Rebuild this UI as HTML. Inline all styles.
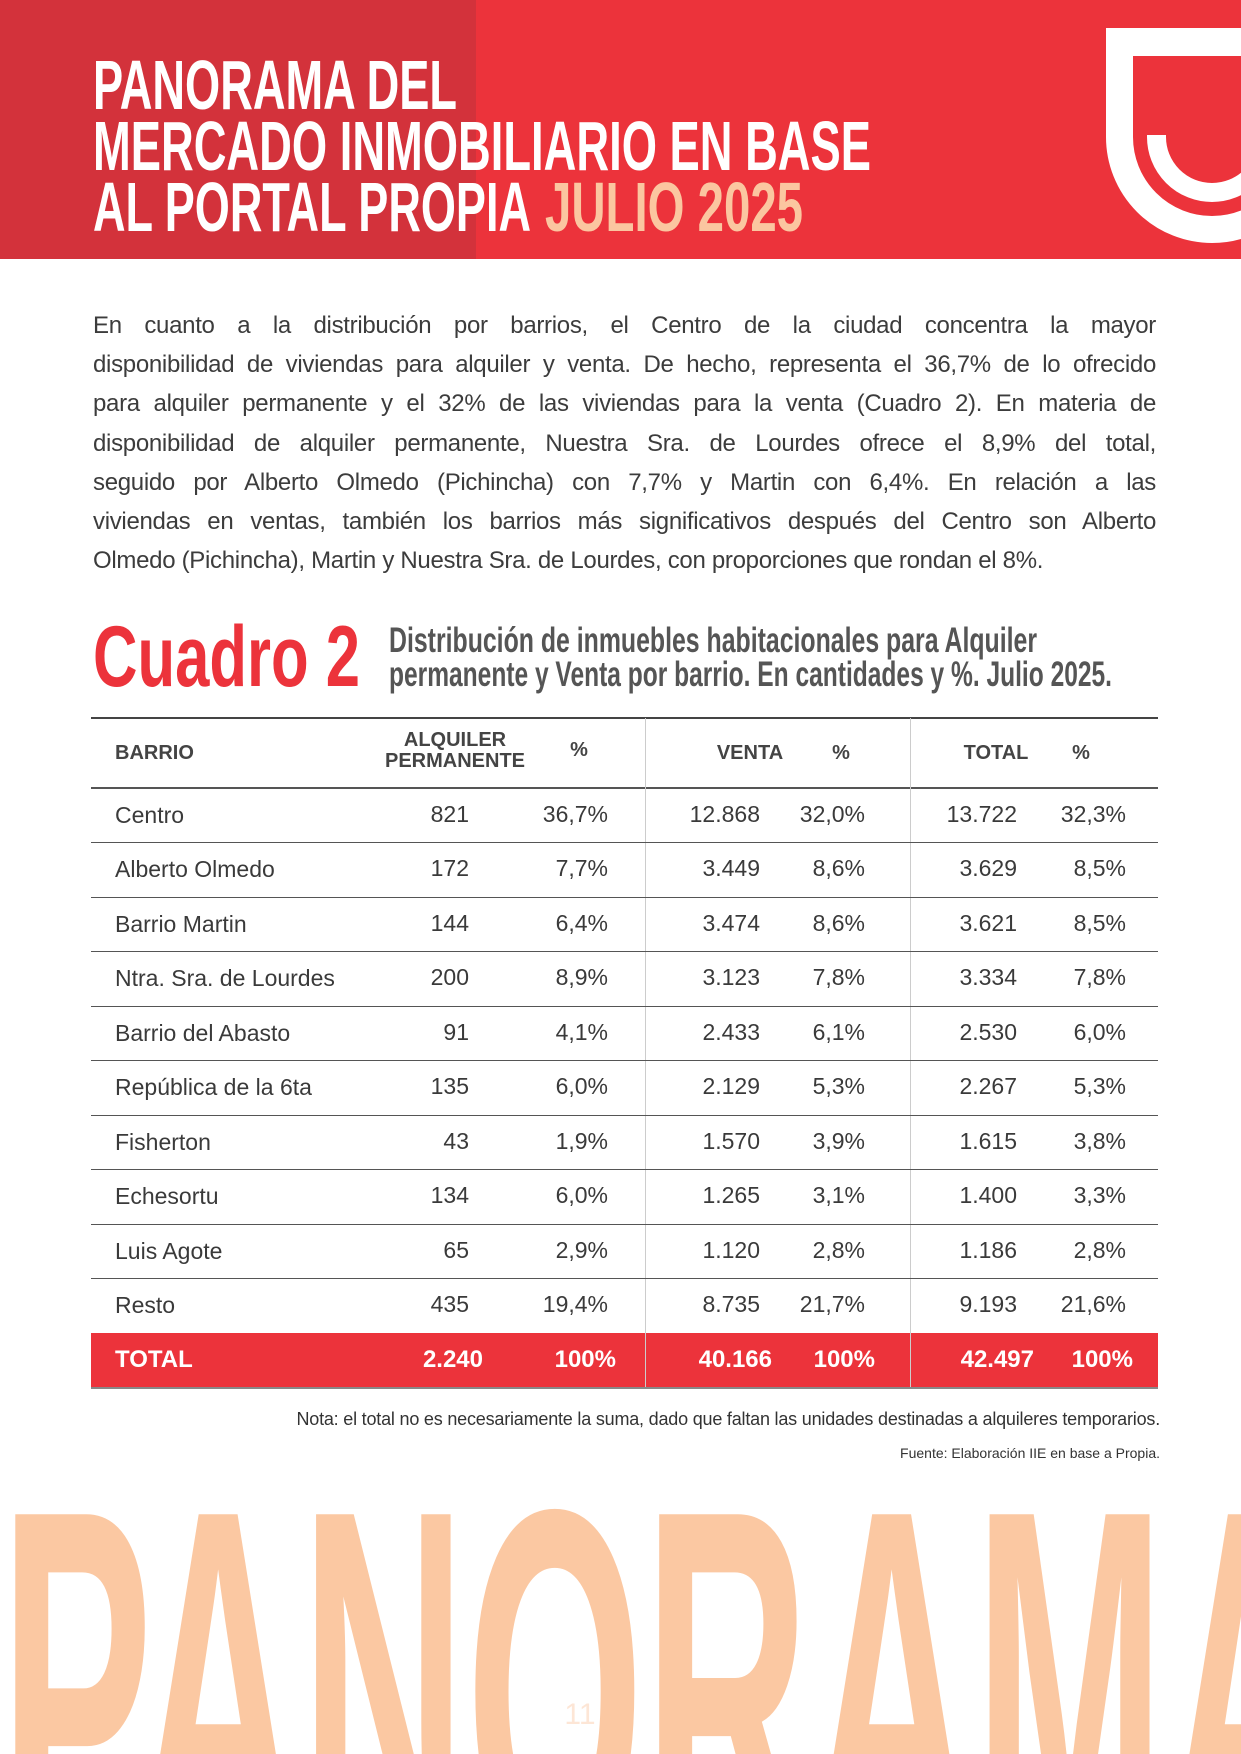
<!DOCTYPE html>
<html><head><meta charset="utf-8">
<style>
html,body{margin:0;padding:0;}
body{width:1241px;height:1754px;position:relative;overflow:hidden;background:#fff;font-family:"Liberation Sans",sans-serif;}
.abs{position:absolute;}
.para{left:93px;top:306px;width:1063px;font-size:24px;letter-spacing:-0.3px;color:#3c3c3c;line-height:39.2px;}
.para div{text-align:justify;text-align-last:justify;white-space:nowrap;height:39.2px;}
.para div.last{text-align-last:left;}
.cell{position:absolute;font-size:23px;color:#3a3a3a;white-space:nowrap;line-height:54px;}
.hd{position:absolute;font-size:20px;font-weight:bold;color:#444;white-space:nowrap;text-align:center;line-height:21px;}
.tot{position:absolute;font-size:24px;font-weight:bold;color:#fff;white-space:nowrap;line-height:54px;}
</style></head><body>

<svg class="abs" style="left:0;top:0" width="1241" height="1754">
  <rect x="0" y="0" width="1241" height="259" fill="#ec333b"/>
  <rect x="0" y="0" width="476" height="259" fill="#d3323b"/>
  <g>
    <rect x="1106" y="28" width="140" height="28" fill="#fff"/>
    <path d="M1119.5,28 V137 A92.5,92.5 0 0 0 1304.5,137" fill="none" stroke="#fff" stroke-width="27"/>
    <path d="M1156.5,135 V137 A55.5,55.5 0 0 0 1267.5,137" fill="none" stroke="#fff" stroke-width="19"/>
  </g>
  <g font-family="'Liberation Sans',sans-serif" font-weight="bold" fill="#fff">
    <text x="93" y="109" font-size="70" textLength="364" lengthAdjust="spacingAndGlyphs">PANORAMA DEL</text>
    <text x="93" y="170" font-size="70" textLength="778" lengthAdjust="spacingAndGlyphs">MERCADO INMOBILIARIO EN BASE</text>
    <text x="93" y="231" font-size="70" textLength="438" lengthAdjust="spacingAndGlyphs">AL PORTAL PROPIA</text>
    <text x="545" y="231" font-size="70" fill="#fbc6a0" textLength="258" lengthAdjust="spacingAndGlyphs">JULIO 2025</text>
  </g>
  <g font-family="'Liberation Sans',sans-serif" font-weight="bold">
    <text x="93" y="686" font-size="86" fill="#ec333b" textLength="267" lengthAdjust="spacingAndGlyphs">Cuadro 2</text>
    <text x="389" y="652" font-size="35" fill="#555" textLength="648" lengthAdjust="spacingAndGlyphs">Distribución de inmuebles habitacionales para Alquiler</text>
    <text x="389" y="686" font-size="35" fill="#555" textLength="723" lengthAdjust="spacingAndGlyphs">permanente y Venta por barrio. En cantidades y %. Julio 2025.</text>
  </g>
  <text x="0" y="1872" font-family="'Liberation Sans',sans-serif" font-weight="bold" font-size="520" fill="#fbc8a2" textLength="1330" lengthAdjust="spacingAndGlyphs">PANORAMA</text>
  <text x="580" y="1724" text-anchor="middle" font-family="'Liberation Sans Narrow','Liberation Sans',sans-serif" font-size="30" fill="#fde6d6">11</text>
</svg>

<div class="abs para">
<div>En cuanto a la distribución por barrios, el Centro de la ciudad concentra la mayor</div>
<div>disponibilidad de viviendas para alquiler y venta. De hecho, representa el 36,7% de lo ofrecido</div>
<div>para alquiler permanente y el 32% de las viviendas para la venta (Cuadro 2). En materia de</div>
<div>disponibilidad de alquiler permanente, Nuestra Sra. de Lourdes ofrece el 8,9% del total,</div>
<div>seguido por Alberto Olmedo (Pichincha) con 7,7% y Martin con 6,4%. En relación a las</div>
<div>viviendas en ventas, también los barrios más significativos después del Centro son Alberto</div>
<div class="last">Olmedo (Pichincha), Martin y Nuestra Sra. de Lourdes, con proporciones que rondan el 8%.</div>
</div>

<div id="table" class="abs" style="left:0;top:0;width:1241px;height:1754px;">
  <div class="abs" style="left:91px;top:717px;width:1067px;height:2px;background:#444"></div>
  <div class="abs" style="left:91px;top:787px;width:1067px;height:2px;background:#555"></div>
  <div class="abs" style="left:91px;top:1333px;width:1067px;height:54px;background:#ec333b"></div>
  <div class="abs" style="left:91px;top:1387px;width:1067px;height:2px;background:#888"></div>
  <div class="abs" style="left:645px;top:718px;width:1px;height:669px;background:#ccc"></div>
  <div class="abs" style="left:910px;top:718px;width:1px;height:669px;background:#ccc"></div>
  <div class="hd" style="left:115px;top:743px;text-align:left">BARRIO</div>
  <div class="hd" style="left:355px;top:730px;width:200px">ALQUILER<br>PERMANENTE</div>
  <div class="hd" style="left:559px;top:740px;width:40px">%</div>
  <div class="hd" style="left:700px;top:743px;width:100px">VENTA</div>
  <div class="hd" style="left:821px;top:743px;width:40px">%</div>
  <div class="hd" style="left:946px;top:743px;width:100px">TOTAL</div>
  <div class="hd" style="left:1061px;top:743px;width:40px">%</div>
</div>

<div class="abs" style="right:81px;top:1409px;font-size:18px;color:#333;white-space:nowrap;letter-spacing:-0.2px">Nota: el total no es necesariamente la suma, dado que faltan las unidades destinadas a alquileres temporarios.</div>
<div class="abs" style="right:81px;top:1445px;font-size:14px;color:#333;white-space:nowrap">Fuente: Elaboración IIE en base a Propia.</div>

<script>
const barrios = ["Centro","Alberto Olmedo","Barrio Martin","Ntra. Sra. de Lourdes","Barrio del Abasto","República de la 6ta","Fisherton","Echesortu","Luis Agote","Resto"];
const alquiler = ["821","172","144","200","91","135","43","134","65","435"];
const alquilerPct = ["36,7%","7,7%","6,4%","8,9%","4,1%","6,0%","1,9%","6,0%","2,9%","19,4%"];
const venta = ["12.868","3.449","3.474","3.123","2.433","2.129","1.570","1.265","1.120","8.735"];
const ventaPct = ["32,0%","8,6%","8,6%","7,8%","6,1%","5,3%","3,9%","3,1%","2,8%","21,7%"];
const total = ["13.722","3.629","3.621","3.334","2.530","2.267","1.615","1.400","1.186","9.193"];
const totalPct = ["32,3%","8,5%","8,5%","7,8%","6,0%","5,3%","3,8%","3,3%","2,8%","21,6%"];
const totalsRow = ["TOTAL","2.240","100%","40.166","100%","42.497","100%"];

const tbl = document.getElementById('table');
const rowTop = 788, rowH = 54.45;
const rightEdges = [469, 608, 760, 865, 1017, 1126];
const totalRights = [483, 616, 772, 875, 1034, 1133];
const cols = [alquiler, alquilerPct, venta, ventaPct, total, totalPct];
const colNames = ['alquiler','alquiler-pct','venta','venta-pct','total','total-pct'];

barrios.forEach((b, i) => {
  const y = Math.round(rowTop + i * rowH);
  const nm = document.createElement('div');
  nm.className = 'cell';
  nm.style.left = '115px';
  nm.style.top = y + 'px';
  nm.textContent = b;
  
  
  tbl.appendChild(nm);
  cols.forEach((arr, c) => {
    const d = document.createElement('div');
    d.className = 'cell';
    d.style.right = (1241 - rightEdges[c]) + 'px';
    d.style.top = (y - 1) + 'px';
    d.textContent = arr[i];
    
    
    tbl.appendChild(d);
  });
  if (i < barrios.length - 1) {
    const ln = document.createElement('div');
    ln.className = 'abs';
    ln.style.cssText = 'left:91px;width:1067px;height:1px;background:#555;top:' + Math.round(rowTop + (i + 1) * rowH) + 'px';
    
    
    tbl.appendChild(ln);
  }
});

const ty = 1333;
const tl = document.createElement('div');
tl.className = 'tot';
tl.style.left = '115px';
tl.style.top = ty + 'px';
tl.textContent = totalsRow[0];


tbl.appendChild(tl);
for (let c = 0; c < 6; c++) {
  const d = document.createElement('div');
  d.className = 'tot';
  d.style.right = (1241 - totalRights[c]) + 'px';
  d.style.top = ty + 'px';
  d.textContent = totalsRow[c + 1];
  
  
  tbl.appendChild(d);
}
</script>
</body></html>
